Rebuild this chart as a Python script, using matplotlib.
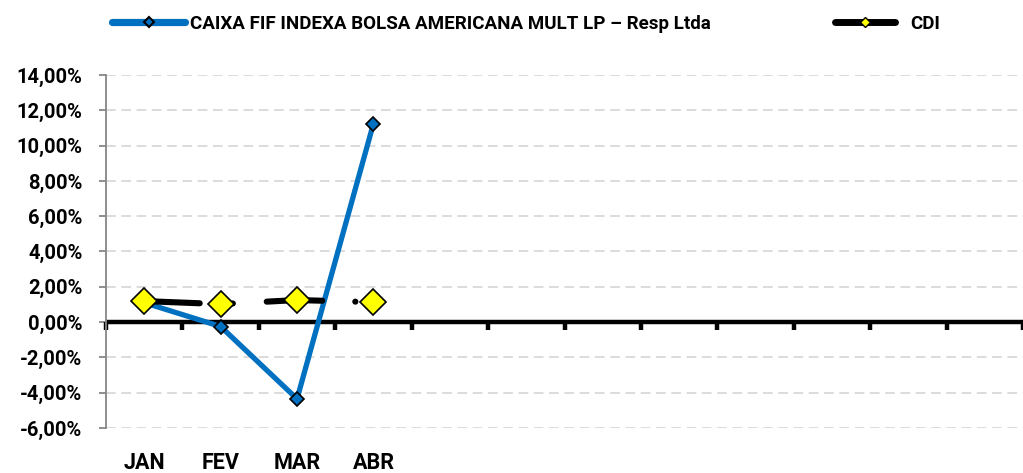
import numpy as np
import matplotlib
matplotlib.use("Agg")
import matplotlib.pyplot as plt
from matplotlib.lines import Line2D
from matplotlib.ticker import FuncFormatter, MultipleLocator

plt.rcParams['font.family'] = ['Roboto', 'DejaVu Sans']
plt.rcParams['font.weight'] = 'bold'
plt.rcParams['lines.scale_dashes'] = False

# data
months = ["JAN", "FEV", "MAR", "ABR", "", "", "", "", "", "", "", ""]
fund_name = "CAIXA FIF INDEXA BOLSA AMERICANA MULT LP \u2013 Resp Ltda"
fund_values = [1.10, -0.25, -4.35, 11.25]
cdi_values = [1.19, 1.02, 1.25, 1.13]

x_all = np.arange(len(months))
x_data = x_all[:len(fund_values)]

fig = plt.figure(figsize=(10.23, 4.73), dpi=100)
ax = fig.add_axes([106 / 1023, 45 / 473, 917 / 1023, 353 / 473])

# grid lines (dashed, light grey)
ax.set_ylim(-6, 14)
ax.set_xlim(-0.5, len(months) - 0.5)
ax.yaxis.set_major_locator(MultipleLocator(2))
ax.yaxis.grid(True, color="#d9d9d9", linewidth=1.3, linestyle=(0, (7, 4)))
ax.set_axisbelow(True)

# zero axis line with category tick marks
ax.axhline(0, color="black", linewidth=3.2, zorder=2)
for b in np.arange(-0.5, len(months), 1.0):
    ax.plot([b, b], [0, -0.42], color="black", linewidth=3.2,
            solid_capstyle="butt", zorder=2, clip_on=False)

# series
ax.plot(x_data, fund_values, color="#0070c0", linewidth=3.8,
        marker="D", markersize=7, markerfacecolor="#0070c0",
        markeredgecolor="black", markeredgewidth=1.2, zorder=3)
ax.plot(x_data, cdi_values, color="black", linewidth=4.4,
        linestyle=(0, (40, 23.8, 0.1, 24.4)), dash_capstyle="round",
        marker="D", markersize=13, markerfacecolor="#ffff00",
        markeredgecolor="black", markeredgewidth=1.2, zorder=4)

# axes styling
for s in ["top", "right", "bottom"]:
    ax.spines[s].set_visible(False)
ax.spines["left"].set_color("#868686")
ax.spines["left"].set_linewidth(1.3)
ax.tick_params(axis="y", color="#868686", length=5, width=1.3,
               labelsize=14.5, pad=12)
ax.yaxis.set_major_formatter(
    FuncFormatter(lambda v, p: ("%.2f%%" % v).replace(".", ",")))
ax.set_xticks([])

# month labels below the plot
for xi, m in zip(x_all, months):
    ax.text(xi, -0.1, m, transform=ax.get_xaxis_transform(),
            ha="center", va="center", fontsize=15.5, fontweight="bold")

# legend
h1 = Line2D([], [], color="#0070c0", linewidth=5.2, solid_capstyle="round",
            marker="D", markersize=5.5, markerfacecolor="#0070c0",
            markeredgecolor="black", markeredgewidth=1.5)
h2 = Line2D([], [], color="black", linewidth=5, solid_capstyle="round",
            marker="D", markersize=5.5, markerfacecolor="#ffff00",
            markeredgecolor="black", markeredgewidth=1)
leg1 = fig.legend([h1], [fund_name], loc="center left",
                  bbox_to_anchor=(112 / 1023, 1 - 24 / 473), frameon=False,
                  fontsize=13.5, handlelength=3.9, handletextpad=0.25,
                  borderpad=0, borderaxespad=0)
leg2 = fig.legend([h2], ["CDI"], loc="center left",
                  bbox_to_anchor=(835 / 1023, 1 - 24 / 473), frameon=False,
                  fontsize=13.5, handlelength=3.2, handletextpad=0.8,
                  borderpad=0, borderaxespad=0)
for leg in (leg1, leg2):
    for t in leg.get_texts():
        t.set_fontweight("bold")

fig.savefig("out.png", dpi=100)
